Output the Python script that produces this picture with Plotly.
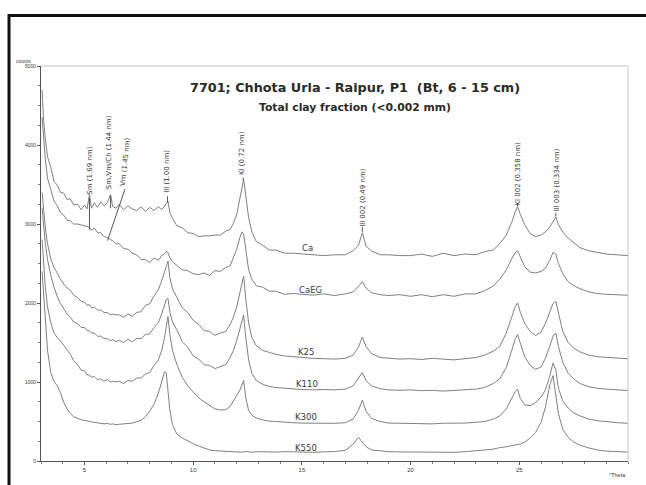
import plotly.graph_objects as go

# ---------------- data ----------------
two_theta = [
    3.05, 3.12, 3.2, 3.3, 3.45, 3.6, 3.75, 3.9, 4.05, 4.2,
    4.35, 4.5, 4.68, 4.85, 5.0, 5.12, 5.23, 5.32, 5.45, 5.6,
    5.75, 5.9, 6.05, 6.2, 6.3, 6.45, 6.6, 6.8, 7.0, 7.2,
    7.4, 7.6, 7.8, 8.0, 8.2, 8.4, 8.55, 8.68, 8.76, 8.84,
    8.93, 9.05, 9.25, 9.5, 9.75, 10.0, 10.25, 10.5, 10.75, 11.0,
    11.25, 11.5, 11.7, 11.85, 12.0, 12.15, 12.24, 12.32, 12.42, 12.55,
    12.7, 12.9, 13.2, 13.5, 13.8, 14.2, 14.6, 15.0, 15.5, 16.0,
    16.5, 17.0, 17.35, 17.6, 17.78, 17.95, 18.2, 18.6, 19.0, 19.5,
    20.0, 20.5, 21.0, 21.5, 22.0, 22.5, 23.0, 23.4, 23.8, 24.1,
    24.4, 24.65, 24.82, 24.92, 25.05, 25.25, 25.5, 25.75, 26.0, 26.2,
    26.4, 26.55, 26.68, 26.8, 27.0, 27.25, 27.5, 27.8, 28.2, 28.6,
    29.0, 29.5, 30.0,
]

counts_ca = [
    4700, 4300, 4080, 3850, 3720, 3540, 3490, 3400, 3390, 3310,
    3320, 3240, 3250, 3180, 3240, 3190, 3380, 3200, 3270, 3210,
    3280, 3230, 3270, 3370, 3220, 3200, 3250, 3180, 3230, 3190,
    3170, 3220, 3160, 3210, 3170, 3220, 3180, 3230, 3250, 3290,
    3140, 3070, 2980, 2950, 2890, 2880, 2840, 2850, 2850, 2860,
    2860, 2910, 2930, 3010, 3120, 3300, 3450, 3570, 3350, 3080,
    2900, 2780, 2730, 2670, 2670, 2630, 2630, 2620, 2610, 2600,
    2610, 2610, 2660, 2730, 2890, 2720, 2660, 2610, 2610, 2600,
    2600, 2620, 2590, 2630, 2600, 2620, 2610, 2650, 2670, 2750,
    2860, 3020, 3160, 3220, 3120, 2990, 2880, 2840, 2860, 2900,
    2960, 3040, 3090, 2990, 2900, 2820, 2760, 2700, 2660, 2640,
    2620, 2610, 2600,
]

counts_caeg = [
    4350, 4030, 3820, 3580, 3440, 3290, 3230, 3140, 3110, 3050,
    3040, 3000, 3000, 2990, 2980, 2970, 2960, 2920, 2950, 2890,
    2890, 2840, 2830, 2800, 2790, 2750, 2750, 2690, 2680, 2630,
    2610, 2550, 2550, 2510, 2570, 2540, 2600, 2620, 2650, 2640,
    2570, 2520, 2480, 2420, 2410, 2370, 2360, 2380, 2350, 2410,
    2400, 2450, 2470, 2570, 2680, 2830, 2900, 2880, 2650, 2420,
    2300, 2220, 2200, 2150, 2150, 2110, 2120, 2110, 2100, 2115,
    2095, 2115, 2140, 2210, 2270, 2190, 2130, 2105, 2095, 2105,
    2085, 2105, 2080, 2105, 2085, 2115, 2115, 2155, 2215, 2300,
    2420, 2560, 2640, 2660, 2580, 2460, 2390, 2380, 2400, 2440,
    2540, 2640, 2620, 2500, 2370, 2270, 2220, 2180, 2140, 2120,
    2110, 2100, 2098,
]

counts_k25 = [
    3400, 3150, 2950, 2750, 2560, 2450, 2370, 2300, 2240, 2190,
    2160, 2100, 2070, 2020, 2010, 1970, 1980, 1940, 1950, 1910,
    1910, 1880, 1880, 1850, 1860, 1850, 1850, 1820, 1860, 1830,
    1880, 1890, 1970, 1990, 2090, 2170, 2280, 2390, 2480, 2530,
    2320, 2180, 2070, 1940, 1880, 1780, 1730, 1650, 1640, 1590,
    1620, 1640, 1730, 1820, 1950, 2120, 2250, 2340, 2050, 1750,
    1560, 1460, 1400, 1370, 1350, 1330, 1320, 1310, 1300, 1295,
    1290, 1300, 1340, 1440, 1570, 1450, 1360, 1310, 1300, 1290,
    1295, 1285, 1300, 1290, 1280, 1295, 1310, 1340, 1390, 1450,
    1620, 1820, 1960, 2000, 1880, 1740, 1640, 1590, 1630, 1740,
    1880, 1990, 2020, 1860, 1640, 1500, 1430, 1380, 1340, 1320,
    1310, 1300, 1294,
]

counts_k110 = [
    3200, 2950, 2750, 2550, 2350, 2200, 2080, 1990, 1920, 1860,
    1820, 1760, 1740, 1690, 1690, 1650, 1650, 1620, 1620, 1580,
    1580, 1550, 1550, 1520, 1540, 1510, 1530, 1500, 1540, 1510,
    1550, 1550, 1600, 1610, 1690, 1750, 1860, 1960, 2040, 2060,
    1880, 1760, 1660, 1510, 1440, 1330, 1290, 1220, 1210, 1170,
    1200, 1220, 1310, 1400, 1520, 1670, 1780, 1850, 1560, 1280,
    1110, 1020, 970, 945, 930, 920, 910, 905, 900, 905,
    900, 910, 950, 1040, 1120, 1020, 950, 915, 900, 895,
    900, 890, 895, 885, 895, 900, 910, 930, 980, 1040,
    1180, 1400, 1550, 1600, 1480, 1320, 1210, 1160, 1190, 1300,
    1450, 1580, 1620, 1450, 1250, 1110, 1040, 980, 940, 920,
    910, 900, 892,
]

counts_k300 = [
    2800, 2450, 2200, 1950, 1750, 1620, 1560, 1520, 1460, 1400,
    1350, 1270, 1220, 1150, 1140, 1090, 1090, 1060, 1070, 1030,
    1040, 1010, 1030, 1000, 1010, 1000, 1010, 980, 1020, 1010,
    1050, 1050, 1100, 1120, 1210, 1280, 1400, 1560, 1720, 1830,
    1600, 1400, 1220, 1060, 950, 870, 800, 750, 700, 660,
    645, 650, 690, 760, 830, 900, 960, 1020, 800, 640,
    580, 545, 520, 505, 500, 490, 485, 480, 478, 475,
    477, 485, 530, 640, 770, 630, 540, 500, 480, 478,
    475, 480, 470, 478, 475, 480, 490, 500, 530, 570,
    660, 790, 880, 905, 790, 710, 700, 740, 810, 900,
    1070, 1240, 1150, 920, 760, 670, 610, 570, 530, 510,
    495, 485, 477,
]

counts_k550 = [
    2400, 2050, 1800, 1400, 1120, 1010, 950, 860, 740, 660,
    600, 560, 540, 520, 515, 505, 500, 495, 490, 485,
    480, 470, 475, 465, 470, 460, 465, 470, 475, 480,
    495, 515, 560, 630, 720, 860, 1000, 1130, 1120, 880,
    640, 460, 340, 290, 250, 220, 190, 160, 140, 130,
    125, 120, 118, 115, 118, 115, 112, 115, 120, 115,
    112, 118, 115, 110, 113, 118, 115, 112, 110, 115,
    120, 135, 210, 300, 240, 180, 140, 125, 118, 115,
    113, 118, 112, 115, 110, 118, 125, 140, 150, 170,
    180, 190, 200, 205, 215, 240, 290, 360, 490, 680,
    960, 1080, 850, 600, 400, 300, 240, 200, 165, 140,
    125, 118, 113,
]

series_names = ["Ca", "CaEG", "K25", "K110", "K300", "K550"]
series_values = [counts_ca, counts_caeg, counts_k25, counts_k110, counts_k300, counts_k550]

peak_labels = ["Sm (1.69 nm)", "Sm,Vm/Ch (1.44 nm)", "Vm (1.45 nm)", "Ill (1.00 nm)",
               "Kl (0.72 nm)", "Ill 002 (0.49 nm)", "Kl 002 (0.358 nm)", "Ill 003 (0.334 nm)"]

x_tick_values = [5, 10, 15, 20, 25]
y_tick_values = [0, 1000, 2000, 3000, 4000, 5000]

title_text = "7701; Chhota Urla - Raipur, P1  (Bt, 6 - 15 cm)"
subtitle_text = "Total clay fraction (<0.002 mm)"

# ---------------- figure ----------------
FONT = "Liberation Sans, Arial, sans-serif"
FONT_WIDE = "DejaVu Sans, Verdana, sans-serif"
LINE_COLOR = "#808080"
TEXT_COLOR = "#3a3a3a"

fig = go.Figure()
for name, vals in zip(series_names, series_values):
    fig.add_trace(go.Scatter(
        x=two_theta, y=vals, mode="lines", name=name,
        line=dict(color=LINE_COLOR, width=1),
        showlegend=False, hoverinfo="skip",
    ))

annotations = []
shapes = []

curve_label_pos = [(15.25, 2690), (15.4, 2160), (15.2, 1380), (15.25, 975), (15.2, 560), (15.2, 165)]
for name, (lx, ly) in zip(series_names, curve_label_pos):
    annotations.append(dict(x=lx, y=ly, xref="x", yref="y", text=name, showarrow=False,
                            font=dict(family=FONT_WIDE, size=8.5, color=TEXT_COLOR),
                            xanchor="center", yanchor="middle"))

peak_label_pos = [(5.28, 3670), (6.16, 3906), (6.9, 3793), (8.82, 3668),
                  (12.27, 3894), (17.8, 3341), (24.95, 3642), (26.74, 3554)]
peak_angles = [-90, -90, -84, -90, -90, -90, -90, -90]
for txt, (px_, py_), ang in zip(peak_labels, peak_label_pos, peak_angles):
    annotations.append(dict(x=px_, y=py_, xref="x", yref="y", text=txt, showarrow=False,
                            textangle=ang, font=dict(family=FONT_WIDE, size=7, color=TEXT_COLOR),
                            xanchor="center", yanchor="middle"))

leaders = [(5.23, 3330, 5.23, 2930), (6.2, 3360, 6.2, 3200), (6.86, 3440, 6.06, 2790),
           (8.82, 3350, 8.82, 3270), (12.3, 3590, 12.3, 3560), (17.78, 2960, 17.78, 2900),
           (24.92, 3260, 24.92, 3225), (26.68, 3140, 26.68, 3095)]
for x0, y0, x1, y1 in leaders:
    shapes.append(dict(type="line", xref="x", yref="y", x0=x0, y0=y0, x1=x1, y1=y1,
                       line=dict(color="#555555", width=1)))

shapes.append(dict(type="line", xref="paper", yref="paper", x0=0, y0=1, x1=1, y1=1,
                   line=dict(color="#c8c8c8", width=1)))
shapes.append(dict(type="line", xref="paper", yref="paper", x0=1, y0=0, x1=1, y1=1,
                   line=dict(color="#c8c8c8", width=1)))

shapes.append(dict(type="rect", xref="paper", yref="paper", x0=-0.0545, y0=-0.2, x1=1.2, y1=1.128,
                   line=dict(color="#111111", width=3), fillcolor="rgba(0,0,0,0)", layer="above"))

annotations.append(dict(x=0.535, y=(464 - 88) / 398, xref="paper", yref="paper",
                        text="<b>" + title_text + "</b>", showarrow=False,
                        font=dict(family=FONT_WIDE, size=12.8, color="#2a2a2a"),
                        xanchor="center", yanchor="middle"))
annotations.append(dict(x=0.535, y=(464 - 108) / 398, xref="paper", yref="paper",
                        text="<b>" + subtitle_text + "</b>", showarrow=False,
                        font=dict(family=FONT_WIDE, size=10.8, color="#2a2a2a"),
                        xanchor="center", yanchor="middle"))

annotations.append(dict(x=-0.03, y=(464 - 61) / 398, xref="paper", yref="paper", text="counts",
                        showarrow=False, font=dict(family=FONT, size=5, color=TEXT_COLOR),
                        xanchor="center", yanchor="middle"))
annotations.append(dict(x=(617 - 41) / 587, y=(464 - 478) / 398, xref="paper", yref="paper",
                        text="°Theta", showarrow=False, font=dict(family=FONT, size=5.5, color=TEXT_COLOR),
                        xanchor="center", yanchor="middle"))

fig.update_layout(
    width=646, height=485,
    margin=dict(l=41, r=18, t=66, b=21, pad=0),
    paper_bgcolor="white", plot_bgcolor="white",
    annotations=annotations, shapes=shapes,
    font=dict(family=FONT, color=TEXT_COLOR),
)
fig.update_xaxes(
    range=[3, 30], tickvals=x_tick_values, ticktext=[str(v) for v in x_tick_values],
    showgrid=False, zeroline=False, showline=True, linecolor="#555555", linewidth=1,
    ticks="outside", ticklen=3, tickcolor="#555555", tickfont=dict(size=6, family=FONT, color=TEXT_COLOR),
    minor=dict(dtick=1, tick0=0, ticks="outside", ticklen=2, tickcolor="#777777"),
)
fig.update_yaxes(
    range=[0, 5000], tickvals=y_tick_values, ticktext=[str(v) for v in y_tick_values],
    showgrid=False, zeroline=False, showline=True, linecolor="#555555", linewidth=1,
    ticks="outside", ticklen=3, tickcolor="#555555", tickfont=dict(size=5, family=FONT, color=TEXT_COLOR),
    minor=dict(dtick=250, tick0=0, ticks="outside", ticklen=2, tickcolor="#777777"),
)

# remove the default page margin so the figure fills the window exactly; hide the mode bar
fig.write_html(
    "out.html",
    config={"displayModeBar": False, "staticPlot": True},
    post_script="document.body.style.margin='0px';document.body.style.overflow='hidden';",
)
